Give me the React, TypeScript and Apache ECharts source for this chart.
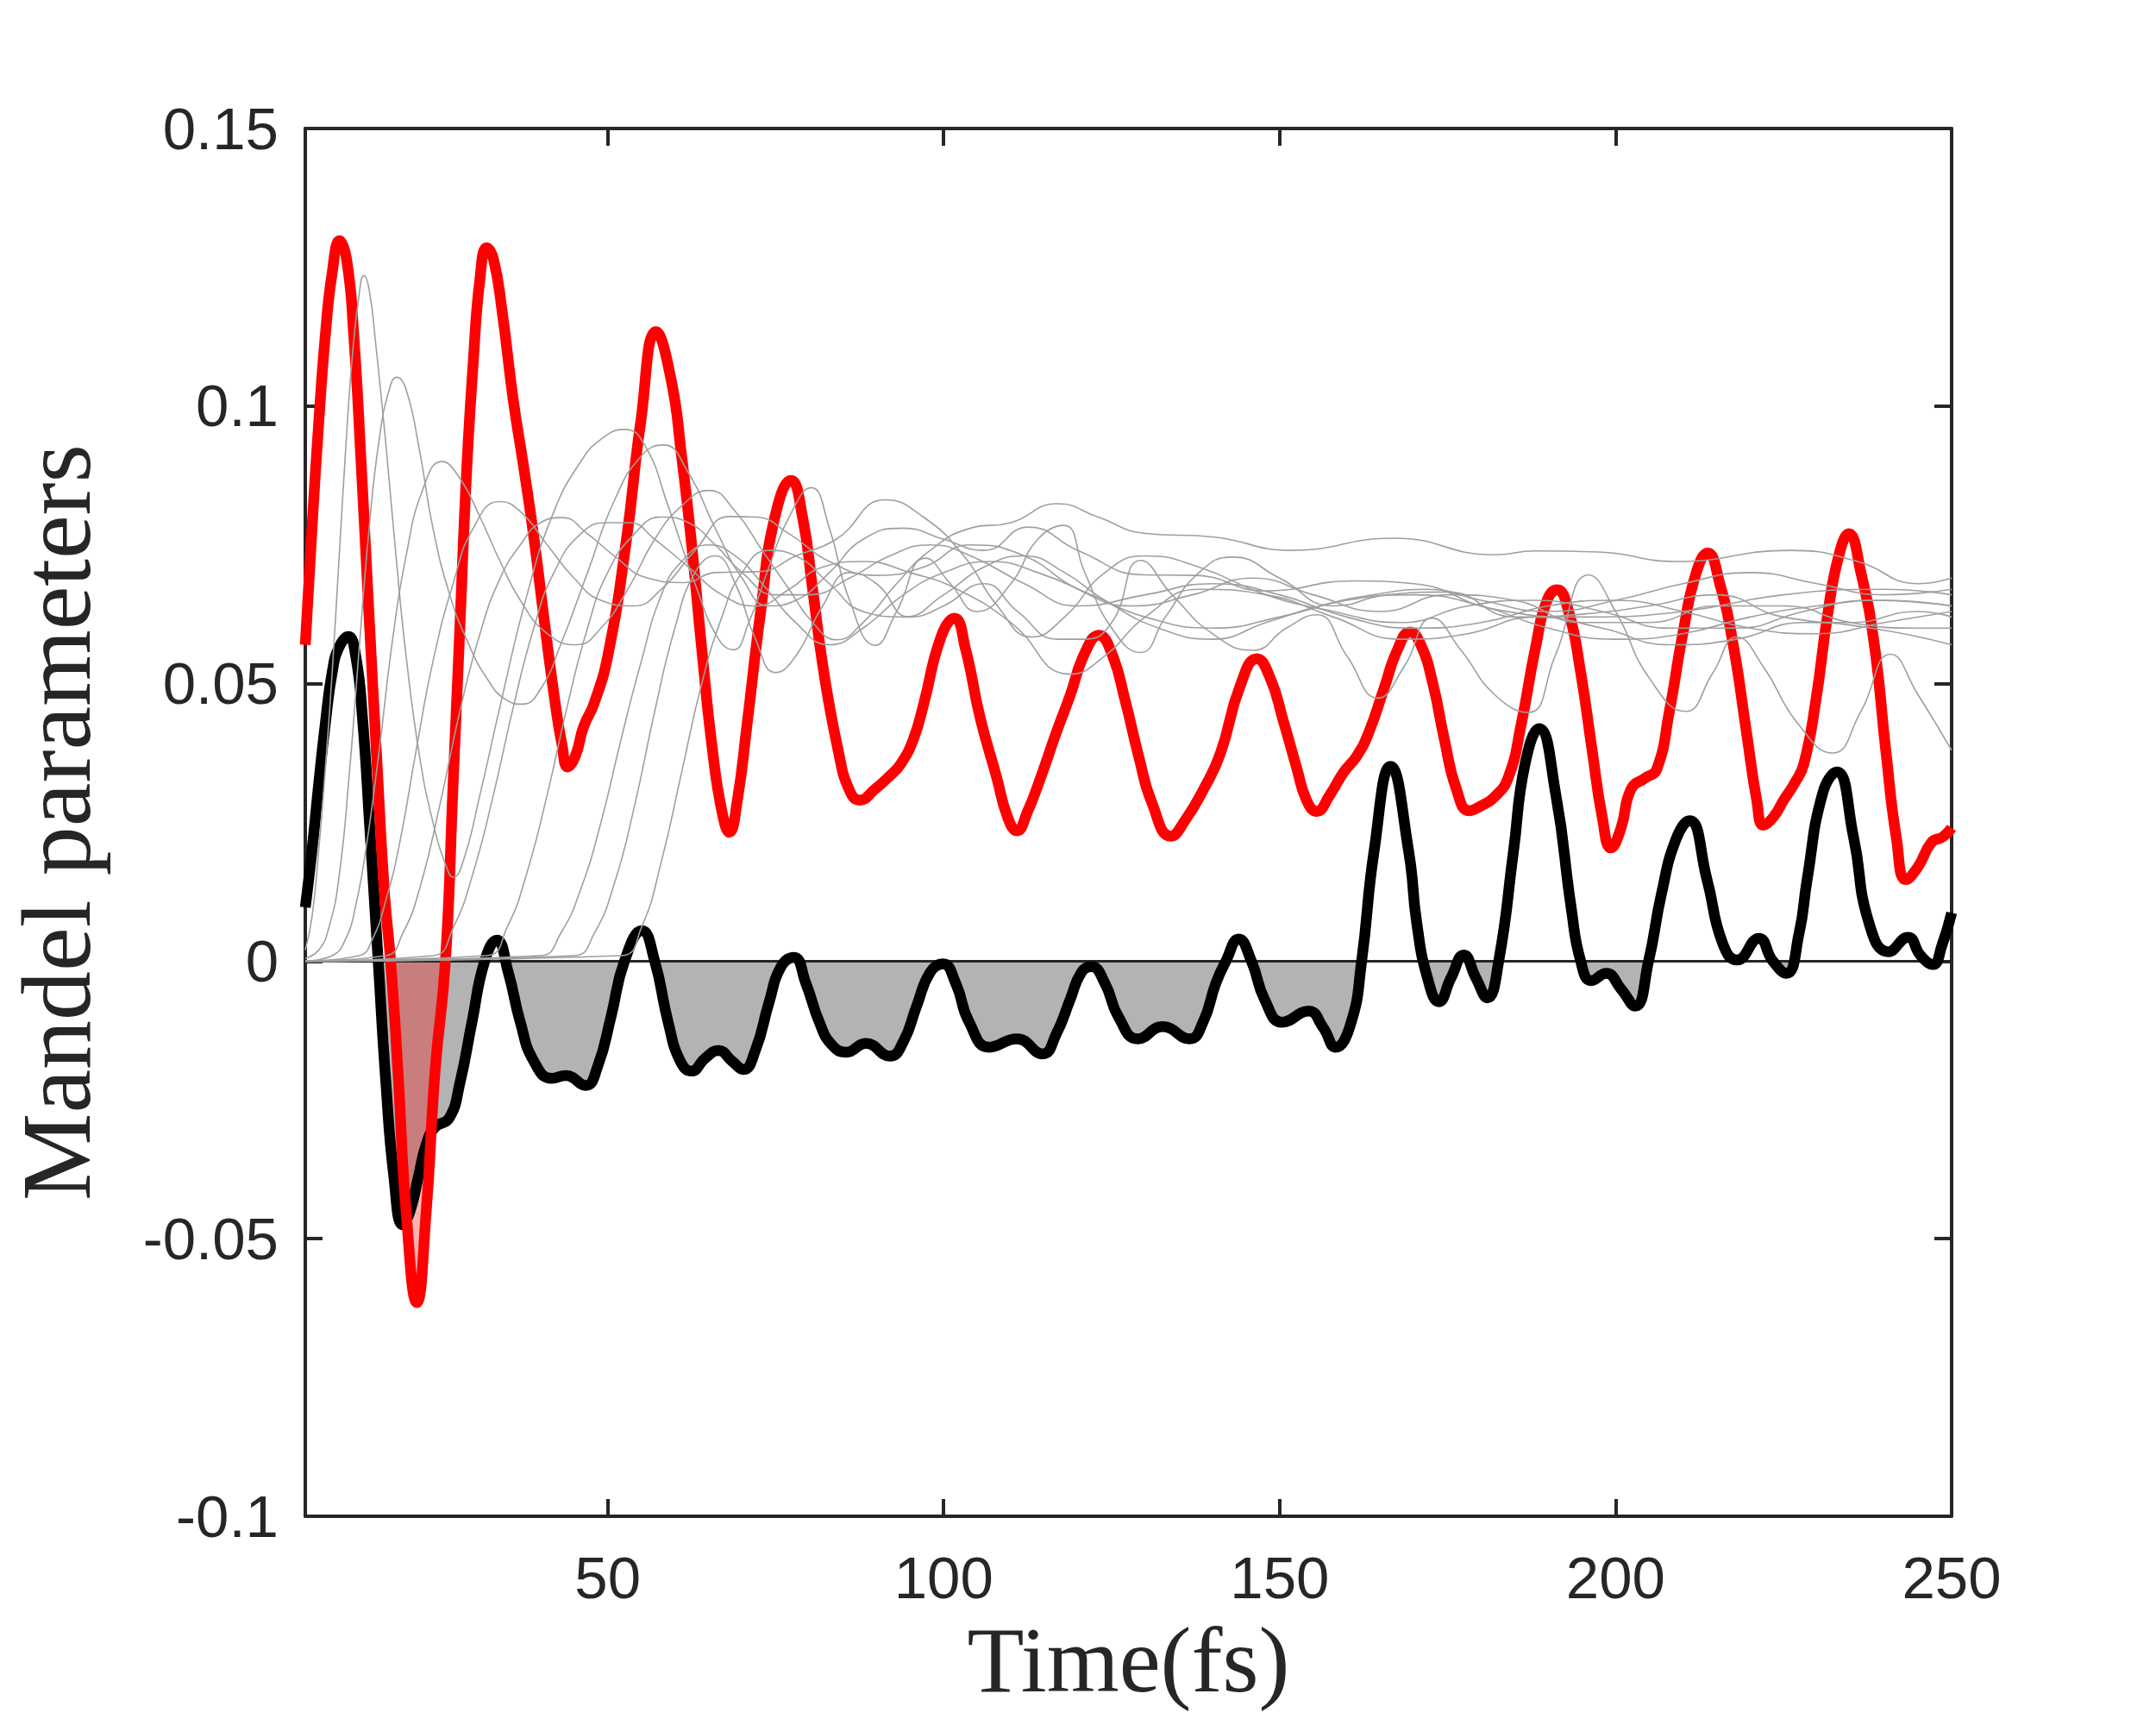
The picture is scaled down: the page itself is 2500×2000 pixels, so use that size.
import React, { useEffect, useRef } from "react";
import * as echarts from "echarts";

type P = [number, number];

const X_MIN = 5;
const X_MAX = 250;
const Y_MIN = -0.1;
const Y_MAX = 0.15;
const Y_STEP = 0.05;
const xTicks = [50, 100, 150, 200, 250];

const redQ: P[] = [
  [5, 0.057], [6, 0.078], [7, 0.097], [8, 0.113], [9, 0.124], [10.1, 0.1298], [11.2, 0.126],
  [12.2, 0.113], [13.3, 0.09], [14.5, 0.062], [15.7, 0.035], [16.8, 0.012], [17.7, 0.0],
  [18.8, -0.02], [20, -0.045], [21.6, -0.0615], [23, -0.045], [24.3, -0.02], [25.85, 0.0],
  [27, 0.032], [28, 0.06], [29, 0.088], [30, 0.108], [31, 0.123], [32, 0.1285], [33, 0.1265],
  [34.3, 0.117], [35.9, 0.1015], [37.5, 0.089], [39.05, 0.076], [40.6, 0.061], [42.2, 0.0464],
  [43.2, 0.039], [44.06, 0.035], [45.2, 0.037], [46.4, 0.0422], [48, 0.0465], [50.1, 0.0555],
  [52.8, 0.076], [54.9, 0.097], [57.2, 0.1134], [59.4, 0.105], [61, 0.091], [62.5, 0.075],
  [64.1, 0.055], [65.6, 0.038], [67, 0.027], [68.1, 0.0232], [69.3, 0.029], [70.7, 0.0422],
  [72.8, 0.0633], [74.9, 0.0801], [77.3, 0.0866], [79, 0.08], [80.5, 0.067], [82.2, 0.0518],
  [84.3, 0.038], [85.9, 0.031], [87.5, 0.029], [89.8, 0.031], [92, 0.0334], [93.65, 0.0356],
  [95.5, 0.04], [97, 0.0462], [99.6, 0.0584], [101.6, 0.0618], [103.3, 0.056], [105.4, 0.044],
  [107.85, 0.0333], [109.5, 0.026], [110.9, 0.0235], [112.5, 0.027], [114.5, 0.0333],
  [116.7, 0.041], [118.8, 0.0478], [121, 0.0555], [123.1, 0.0587], [125, 0.0555], [127, 0.047],
  [129, 0.037], [131, 0.0285], [133.8, 0.0225], [136, 0.0255], [138.7, 0.031], [141.2, 0.0375],
  [144.1, 0.0495], [146.6, 0.0545], [148.6, 0.051], [150.5, 0.0435], [152.5, 0.035], [154, 0.029],
  [155.5, 0.027], [157.5, 0.03], [159.5, 0.034], [161.5, 0.037], [163.2, 0.041], [165.5, 0.049],
  [167.5, 0.056], [169.4, 0.0593], [171, 0.057], [172.8, 0.05], [174.5, 0.04], [176.3, 0.031],
  [178.2, 0.0271], [180, 0.028], [181.9, 0.0295], [184, 0.033], [186, 0.043], [188, 0.056],
  [189.8, 0.065], [191.3, 0.0669], [193, 0.063], [194.8, 0.052], [196.5, 0.038], [198, 0.026],
  [199.3, 0.0204], [200.8, 0.024], [202.3, 0.031], [204.4, 0.033], [206.1, 0.0345], [208, 0.045],
  [210, 0.059], [212, 0.07], [213.7, 0.0735], [215.5, 0.068], [217.5, 0.057], [219.5, 0.041],
  [221, 0.029], [222, 0.0245], [223.5, 0.026], [225, 0.029], [226.6, 0.032], [228, 0.0355],
  [229.8, 0.047], [231.5, 0.062], [233.2, 0.073], [234.7, 0.077], [236.5, 0.07], [238.5, 0.057],
  [240.2, 0.038], [241.8, 0.022], [243.2, 0.0147], [245, 0.017], [247, 0.0214], [248.7, 0.0224],
  [250, 0.024],
];

const blackQ: P[] = [
  [5, 0.0097], [6, 0.02], [7, 0.032], [8, 0.043], [9, 0.052], [10, 0.0565], [11.4, 0.0585],
  [12.5, 0.055], [13.5, 0.044], [14.6, 0.024], [15.85, 0], [17, -0.022], [18.2, -0.039],
  [19.5, -0.0475], [20.6, -0.045], [21.8, -0.039], [23, -0.033], [24.3, -0.0299], [26.4, -0.0283],
  [28, -0.022], [29.8, -0.011], [31.7, 0], [33.5, 0.0038], [35.2, -0.002], [37, -0.011],
  [39, -0.018], [41.7, -0.0211], [43.8, -0.0206], [46.7, -0.0224], [48.5, -0.019], [50.5, -0.01],
  [52.5, 0.0], [55.1, 0.0055], [57, 0.0], [59, -0.011], [60.8, -0.018], [62.5, -0.0198],
  [64.5, -0.0175], [66.5, -0.0161], [68.5, -0.018], [70.2, -0.0195], [72, -0.016], [74, -0.0075],
  [75.8, -0.001], [77.7, 0.0007], [79.5, -0.004], [81.5, -0.011], [83.3, -0.015], [85.5, -0.0164],
  [88.4, -0.0148], [92, -0.0171], [94, -0.0145], [96, -0.008], [98, -0.002], [99.9, -0.0005],
  [101.8, -0.004], [103.8, -0.011], [106.8, -0.0155], [110.9, -0.014], [114.7, -0.0167],
  [116.8, -0.013], [118.8, -0.007], [120.5, -0.002], [122, -0.001], [124, -0.004], [126, -0.01],
  [128.9, -0.014], [132.6, -0.0118], [136.6, -0.014], [138.6, -0.011], [140.5, -0.004], [142, 0.0],
  [143.9, 0.004], [145.8, 0.0], [147.8, -0.007], [150.4, -0.011], [154.3, -0.009], [156.5, -0.012],
  [158.3, -0.0155], [160.6, -0.0112], [162.2, 0.0], [164.05, 0.0198], [166.5, 0.0351],
  [169.2, 0.0198], [170.4, 0.0069], [172, -0.003], [173.7, -0.0073], [175.5, -0.003],
  [177.4, 0.0011], [179.2, -0.003], [180.9, -0.0066], [182.6, 0.0], [184.8, 0.0198],
  [186.5, 0.0354], [188.6, 0.0419], [191.1, 0.03], [193.4, 0.0095], [194.8, 0.0], [196.4, -0.0035],
  [198.6, -0.0022], [200.8, -0.005], [202.9, -0.0081], [204.9, 0.0], [206.8, 0.012], [209, 0.022],
  [211, 0.0253], [213.6, 0.0147], [215.9, 0.0033], [218.1, 0.0002], [221.3, 0.0041], [223.4, 0.0],
  [225.4, -0.0022], [227.3, 0.005], [228.5, 0.0147], [230.8, 0.0302], [232.9, 0.0341],
  [235.4, 0.0224], [237.7, 0.0069], [240.6, 0.0017], [243.5, 0.0043], [245.4, 0.001],
  [247.2, -0.0006], [248.6, 0.003], [250, 0.0087],
];

const grey1: P[] = [
  [5, 0.002], [6, 0.008], [7, 0.02], [8, 0.035], [9, 0.052], [10, 0.072], [11, 0.092], [12, 0.109],
  [13, 0.12], [13.7, 0.1235], [14.5, 0.121], [15.5, 0.111], [17, 0.093], [18.5, 0.073], [20, 0.055],
  [22, 0.037], [24, 0.025], [26, 0.017], [27, 0.0151], [28.5, 0.018], [31, 0.03], [34, 0.046],
  [38, 0.066], [42, 0.081], [46, 0.09], [49, 0.094], [52.5, 0.0958], [55.5, 0.093], [59, 0.082],
  [63, 0.068], [66.5, 0.058], [68.7, 0.0561], [71, 0.061], [74, 0.071], [77, 0.08], [80.3, 0.0853],
  [83, 0.078], [86, 0.065], [89.8, 0.0569], [93, 0.063], [97.3, 0.0726], [101, 0.068], [105, 0.063],
  [110, 0.068], [114, 0.076], [117.9, 0.0785], [121, 0.07], [125, 0.06], [129.3, 0.0556], [133, 0.062],
  [138, 0.07], [143, 0.0728], [150, 0.069], [158, 0.064], [166, 0.066], [175, 0.0665], [185, 0.062],
  [195, 0.0625], [205, 0.064], [215, 0.066], [225, 0.062], [235, 0.061], [245, 0.063], [250, 0.062],
];

const grey2: P[] = [
  [5, 0.0005], [7, 0.002], [8.5, 0.006], [10, 0.015], [11.5, 0.033], [13, 0.056], [14.5, 0.078],
  [16, 0.094], [17.5, 0.103], [18.6, 0.1052], [20, 0.103], [22, 0.092], [24, 0.078], [26.5, 0.066],
  [29, 0.058], [32, 0.051], [35, 0.047], [37.3, 0.0463], [40, 0.049], [43, 0.057], [47, 0.07],
  [51, 0.083], [55, 0.091], [58.3, 0.093], [62, 0.088], [66, 0.078], [70, 0.069], [74, 0.064],
  [78, 0.065], [83, 0.07], [88, 0.076], [94, 0.078], [100, 0.076], [106, 0.074], [112.6, 0.0782],
  [120, 0.074], [129.8, 0.0696], [137.4, 0.0695], [147.9, 0.0667], [161, 0.0685], [170, 0.068],
  [182, 0.0634], [195, 0.062], [210, 0.063], [225, 0.066], [240, 0.067], [250, 0.066],
];

const grey3: P[] = [
  [5, 0], [9, 0.001], [11, 0.004], [12.5, 0.01], [14, 0.02], [16, 0.038], [18, 0.058], [20, 0.073],
  [22.5, 0.085], [25.3, 0.09], [28, 0.087], [31, 0.08], [34, 0.072], [37, 0.065], [41, 0.059],
  [45.3, 0.057], [49, 0.06], [53, 0.067], [57, 0.076], [61, 0.082], [65.1, 0.0848], [69, 0.081],
  [73, 0.074], [77, 0.067], [80.5, 0.061], [84.1, 0.0579], [88, 0.061], [93, 0.068], [98, 0.074],
  [104, 0.078], [110, 0.079], [116.9, 0.0824], [123, 0.08], [129.8, 0.0771], [140.3, 0.0764],
  [151.7, 0.074], [167, 0.0762], [182, 0.0732], [188, 0.0739], [197.5, 0.0737], [209, 0.072],
  [226, 0.074], [236, 0.072], [245, 0.068], [250, 0.069],
];

const grey4: P[] = [
  [5, 0], [13, 0.001], [15, 0.004], [17, 0.011], [19, 0.021], [21.5, 0.038], [24, 0.054], [27, 0.068],
  [30, 0.078], [33.9, 0.0828], [37, 0.081], [41, 0.075], [45, 0.069], [49, 0.065], [53.8, 0.064],
  [58, 0.067], [63, 0.074], [68.2, 0.0801], [72, 0.08], [77, 0.077], [83, 0.072], [90, 0.0695],
  [97, 0.071], [104, 0.075], [112, 0.073], [120, 0.067], [128, 0.064], [137, 0.066], [146, 0.069],
  [155, 0.066], [165, 0.063], [175, 0.066], [185, 0.065], [195, 0.061], [205, 0.061], [215, 0.064],
  [225, 0.064], [235, 0.061], [245, 0.06], [250, 0.06],
];

const grey5: P[] = [
  [5, 0], [17, 0.001], [19.5, 0.005], [22, 0.013], [25, 0.028], [28, 0.045], [31, 0.059], [34, 0.069],
  [37, 0.075], [40, 0.079], [43.2, 0.0799], [47, 0.077], [51, 0.073], [56, 0.069], [61.4, 0.0682],
  [66, 0.07], [72.7, 0.0702], [78, 0.073], [84, 0.076], [91.3, 0.0831], [97, 0.08], [103, 0.073],
  [108, 0.064], [113.1, 0.0584], [118, 0.062], [124, 0.07], [130, 0.073], [138, 0.071], [148, 0.066],
  [158, 0.063], [168, 0.061], [178, 0.064], [188, 0.065], [198, 0.063], [208, 0.06], [218, 0.06],
  [228, 0.063], [238, 0.065], [250, 0.064],
];

const grey6: P[] = [
  [5, 0], [24, 0.001], [27, 0.006], [30, 0.016], [33, 0.03], [36, 0.046], [39, 0.06], [42, 0.07],
  [46, 0.077], [50, 0.079], [53.2, 0.079], [57, 0.076], [62, 0.071], [67, 0.066], [72, 0.064],
  [77, 0.067], [82, 0.071], [88, 0.072], [95, 0.07], [102, 0.067], [110, 0.061], [118.8, 0.0517],
  [124, 0.055], [130, 0.062], [138, 0.067], [148, 0.066], [158, 0.062], [168, 0.058], [178, 0.059],
  [188, 0.062], [198, 0.06], [208, 0.057], [218, 0.058], [228, 0.061], [238, 0.06], [250, 0.057],
];

const grey7: P[] = [
  [5, 0], [32, 0.001], [35, 0.006], [38, 0.016], [41, 0.03], [44, 0.046], [47, 0.06], [50, 0.07],
  [54, 0.077], [58, 0.08], [62, 0.079], [66, 0.075], [70, 0.07], [75, 0.066], [80, 0.066], [86, 0.069],
  [92, 0.073], [98, 0.075], [104, 0.073], [112, 0.068], [120, 0.064], [130, 0.066], [140, 0.068],
  [150, 0.066], [160, 0.062], [170, 0.06], [180, 0.061], [190, 0.064], [200, 0.065], [210, 0.063],
  [220, 0.06], [230, 0.059], [240, 0.061], [250, 0.063],
];

const grey8: P[] = [
  [5, 0], [40, 0.001], [43, 0.005], [46, 0.013], [49, 0.025], [52, 0.04], [55, 0.054], [58, 0.066],
  [61, 0.072], [65, 0.075], [69, 0.073], [73, 0.068], [78, 0.061], [83, 0.057], [88, 0.06], [94, 0.066],
  [100, 0.07], [107, 0.072], [114, 0.07], [122, 0.066], [130, 0.062], [140, 0.06], [150, 0.062],
  [160, 0.065], [170, 0.066], [180, 0.064], [190, 0.06], [200, 0.058], [210, 0.059], [220, 0.062],
  [230, 0.064], [240, 0.065], [250, 0.064],
];

const grey9: P[] = [
  [5, 0], [45, 0.001], [48, 0.005], [51, 0.014], [54, 0.028], [57, 0.045], [60, 0.06], [63, 0.07],
  [66, 0.073], [69, 0.068], [72, 0.058], [75, 0.052], [78, 0.055], [82, 0.064], [86, 0.07], [90, 0.068],
  [95, 0.062], [100, 0.064], [106, 0.068], [111, 0.063], [117, 0.058], [121, 0.058], [125, 0.061],
  [129.3, 0.0722], [134, 0.066], [140, 0.059], [146, 0.056], [151, 0.06], [155.5, 0.0624], [160, 0.055],
  [164.6, 0.0474], [168.5, 0.053], [172.7, 0.0618], [177, 0.056], [182, 0.048], [187, 0.0448],
  [191, 0.055], [196, 0.0696], [200, 0.063], [205, 0.051], [210.4, 0.045], [214.5, 0.052],
  [218, 0.0584], [222, 0.053], [227, 0.043], [232.3, 0.0375], [236.5, 0.045], [240.9, 0.0553],
  [245, 0.048], [250, 0.038],
];

const grey10: P[] = [
  [5, 0], [52, 0.001], [55, 0.006], [58, 0.018], [61, 0.034], [64, 0.05], [67, 0.062], [70, 0.07],
  [74, 0.074], [78, 0.073], [83, 0.068], [88, 0.063], [94, 0.062], [100, 0.066], [106, 0.071],
  [112, 0.073], [118, 0.07], [124, 0.065], [132, 0.06], [140, 0.058], [148, 0.061], [156, 0.064],
  [164, 0.066], [172, 0.067], [180, 0.065], [190, 0.063], [200, 0.065], [210, 0.068], [220, 0.07],
  [230, 0.068], [240, 0.066], [250, 0.067],
];

const greyCurves: P[][] = [grey1, grey2, grey3, grey4, grey5, grey6, grey7, grey8, grey9, grey10];

const AXIS_COLOR = "#262626";
const TICK_FONT = "'Liberation Sans', Arial, Helvetica, sans-serif";
const TITLE_FONT = "'Liberation Serif', 'Times New Roman', serif";

function negPart(data: P[]): P[] {
  return data.map(([t, v]) => [t, Math.min(v, 0)] as P);
}

export default function App() {
  const ref = useRef<HTMLDivElement>(null);

  useEffect(() => {
    if (!ref.current) return;
    const chart = echarts.init(ref.current, undefined, { renderer: "svg" });

    const frameAxisLine = { show: true, onZero: false, lineStyle: { color: AXIS_COLOR, width: 4 } };
    const tickStyle = { show: true, inside: true, length: 20, lineStyle: { color: AXIS_COLOR, width: 4 } };

    const lineBase = {
      type: "line" as const,
      showSymbol: false,
      symbol: "none",
      smooth: 0.5,
      silent: true,
      xAxisIndex: 0,
      yAxisIndex: 0,
    };

    const option: any = {
      animation: false,
      backgroundColor: "#ffffff",
      grid: { left: 336, top: 149, width: 1927, height: 1609, containLabel: false },
      xAxis: [
        {
          type: "value",
          min: X_MIN,
          max: X_MAX,
          position: "bottom",
          name: "Time(fs)",
          nameLocation: "middle",
          nameGap: 112,
          nameTextStyle: { fontFamily: TITLE_FONT, fontSize: 108, color: AXIS_COLOR },
          axisLine: frameAxisLine,
          axisTick: { ...tickStyle, customValues: xTicks },
          axisLabel: {
            customValues: xTicks,
            margin: 37,
            fontFamily: TICK_FONT,
            fontSize: 69,
            color: AXIS_COLOR,
          },
          splitLine: { show: false },
        },
        {
          type: "value",
          min: X_MIN,
          max: X_MAX,
          position: "top",
          axisLine: frameAxisLine,
          axisTick: { ...tickStyle, customValues: xTicks },
          axisLabel: { show: false },
          splitLine: { show: false },
        },
      ],
      yAxis: [
        {
          type: "value",
          min: Y_MIN,
          max: Y_MAX,
          interval: Y_STEP,
          position: "left",
          name: "Mandel parameters",
          nameLocation: "middle",
          nameGap: 232,
          nameTextStyle: { fontFamily: TITLE_FONT, fontSize: 114, color: AXIS_COLOR },
          axisLine: frameAxisLine,
          axisTick: tickStyle,
          axisLabel: {
            margin: 31,
            fontFamily: TICK_FONT,
            fontSize: 69,
            color: AXIS_COLOR,
            formatter: (v: number) => String(Math.round(v * 100) / 100),
          },
          splitLine: { show: false },
        },
        {
          type: "value",
          min: Y_MIN,
          max: Y_MAX,
          interval: Y_STEP,
          position: "right",
          axisLine: frameAxisLine,
          axisTick: tickStyle,
          axisLabel: { show: false },
          splitLine: { show: false },
        },
      ],
      series: [
        {
          ...lineBase,
          name: "blackFill",
          data: negPart(blackQ),
          lineStyle: { width: 0, opacity: 0 },
          areaStyle: { color: "#b3b3b3", opacity: 1 },
        },
        {
          ...lineBase,
          name: "redFill",
          data: negPart(redQ),
          lineStyle: { width: 0, opacity: 0 },
          areaStyle: { color: "rgba(255,0,0,0.3)", opacity: 1 },
        },
        {
          ...lineBase,
          name: "zero",
          smooth: false,
          data: [
            [X_MIN, 0],
            [X_MAX, 0],
          ],
          lineStyle: { color: AXIS_COLOR, width: 3 },
        },
        {
          ...lineBase,
          name: "black",
          data: blackQ,
          lineStyle: { color: "#000000", width: 12.5, join: "round", cap: "butt" },
        },
        {
          ...lineBase,
          name: "red",
          data: redQ,
          lineStyle: { color: "#ff0000", width: 12.5, join: "round", cap: "butt" },
        },
        ...greyCurves.map((g, i) => ({
          ...lineBase,
          name: "grey" + (i + 1),
          data: g,
          lineStyle: { color: "#9f9f9f", width: 1.6 },
        })),
      ],
    };

    chart.setOption(option);
    return () => {
      chart.dispose();
    };
  }, []);

  return (
    <div
      ref={ref}
      style={{ position: "absolute", left: 0, top: 0, width: 2500, height: 2000, background: "#fff" }}
    />
  );
}
